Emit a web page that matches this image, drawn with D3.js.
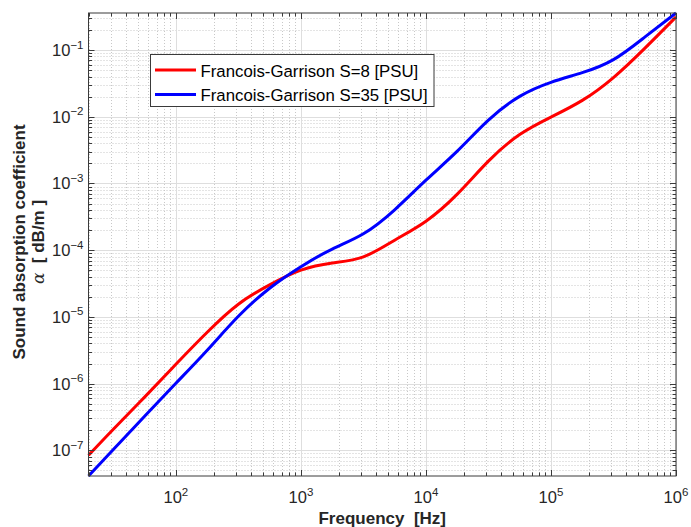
<!DOCTYPE html>
<html>
<head>
<meta charset="utf-8">
<script src="https://cdn.jsdelivr.net/npm/d3@7"></script>
<style>
  html, body { margin: 0; padding: 0; background: #fff; }
  svg { display: block; }
  text { font-family: "Liberation Sans", Arial, Helvetica, sans-serif; }
</style>
</head>
<body>
<svg id="chart" width="691" height="527"></svg>
<script>
// ---- data ----
const freqHz = [20, 31.6, 56.2, 100, 178, 316, 562, 1000, 1780, 3160, 5620,
                1e4, 1.78e4, 3.16e4, 5.62e4, 1e5, 1.78e5, 3.16e5, 5.62e5, 1e6];
const alphaS8 = [8.41e-8, 2.07e-7, 6.27e-7, 1.95e-6, 5.89e-6, 1.55e-5, 3.02e-5, 5.01e-5,
                 6.43e-5, 7.94e-5, 1.41e-4, 2.72e-4, 6.92e-4, 2.16e-3, 5.41e-3, 9.89e-3,
                 1.76e-2, 3.87e-2, 0.106, 0.313];
const alphaS35 = [4.12e-8, 1.03e-7, 3.24e-7, 1.01e-6, 3.16e-6, 1.02e-5, 2.69e-5, 5.66e-5,
                  1.04e-4, 1.76e-4, 4.03e-4, 1.12e-3, 3.05e-3, 8.91e-3, 2.02e-2, 3.28e-2,
                  4.58e-2, 7.18e-2, 0.156, 0.359];
const seriesNames = ["Francois-Garrison S=8 [PSU]", "Francois-Garrison S=35 [PSU]"];
const seriesColors = ["#ff0000", "#0000ff"];
const xTickExps = ["2", "3", "4", "5", "6"];
const yTickExps = ["−7", "−6", "−5", "−4", "−3", "−2", "−1"];

// ---- layout ----
const L = 88.5, R = 676, T = 13, B = 476;
const svg = d3.select("#chart");
const x = d3.scaleLog().domain([freqHz[0], freqHz[freqHz.length - 1]]).range([L, R]);
const yExt = d3.extent(alphaS8.concat(alphaS35));
const y = d3.scaleLog().domain(yExt).range([B, T]);

const axisCol = "#3a3a3a";
const txtCol = "#262626";

function minorVals(dom) {
  const out = [];
  const lo = Math.floor(Math.log10(dom[0])), hi = Math.ceil(Math.log10(dom[1]));
  for (let e = lo; e <= hi; e++) for (let k = 1; k <= 9; k++) {
    const v = k * Math.pow(10, e);
    if (v >= dom[0] * 0.999 && v <= dom[1] * 1.001) out.push({v, major: k === 1});
  }
  return out;
}
const xv = minorVals(x.domain()), yv = minorVals(y.domain());
const g = svg.append("g");
g.selectAll(".gx").data(xv.filter(d => !d.major)).enter().append("line")
  .attr("x1", d => Math.round(x(d.v)) + 0.5).attr("x2", d => Math.round(x(d.v)) + 0.5)
  .attr("y1", T).attr("y2", B)
  .attr("stroke", "#c8c8c8").attr("stroke-width", 1).attr("stroke-dasharray", "1,2");
g.selectAll(".gy").data(yv.filter(d => !d.major)).enter().append("line")
  .attr("y1", d => Math.round(y(d.v)) + 0.5).attr("y2", d => Math.round(y(d.v)) + 0.5)
  .attr("x1", L).attr("x2", R)
  .attr("stroke", "#c8c8c8").attr("stroke-width", 1).attr("stroke-dasharray", "1,2");
g.selectAll(".Gx").data(xv.filter(d => d.major)).enter().append("line")
  .attr("x1", d => Math.round(x(d.v)) + 0.5).attr("x2", d => Math.round(x(d.v)) + 0.5)
  .attr("y1", T).attr("y2", B).attr("stroke", "#dedede").attr("stroke-width", 1);
g.selectAll(".Gy").data(yv.filter(d => d.major)).enter().append("line")
  .attr("y1", d => Math.round(y(d.v)) + 0.5).attr("y2", d => Math.round(y(d.v)) + 0.5)
  .attr("x1", L).attr("x2", R).attr("stroke", "#dedede").attr("stroke-width", 1);

// curves
const line = d3.line().x((d, i) => x(freqHz[i])).y(d => y(d)).curve(d3.curveNatural);
svg.append("g").selectAll("path").data([alphaS8, alphaS35]).enter().append("path")
  .attr("d", d => line(d))
  .attr("fill", "none")
  .attr("stroke", (d, i) => seriesColors[i])
  .attr("stroke-width", 3)
  .attr("stroke-linejoin", "round");

// axes box
svg.append("rect").attr("x", L).attr("y", T).attr("width", R - L).attr("height", B - T)
  .attr("fill", "none").attr("stroke", axisCol).attr("stroke-width", 1);

// ticks (inside, all four sides)
const tk = svg.append("g").attr("stroke", axisCol).attr("stroke-width", 1);
xv.forEach(d => {
  const px = Math.round(x(d.v)) + 0.5, len = d.major ? 6 : 3.5;
  tk.append("line").attr("x1", px).attr("x2", px).attr("y1", B).attr("y2", B - len);
  tk.append("line").attr("x1", px).attr("x2", px).attr("y1", T).attr("y2", T + len);
});
yv.forEach(d => {
  const py = Math.round(y(d.v)) + 0.5, len = d.major ? 6 : 3.5;
  tk.append("line").attr("y1", py).attr("y2", py).attr("x1", L).attr("x2", L + len);
  tk.append("line").attr("y1", py).attr("y2", py).attr("x1", R).attr("x2", R - len);
});

// tick labels
xTickExps.forEach(e => {
  const t = svg.append("text").attr("x", x(Math.pow(10, +e))).attr("y", 503)
    .attr("text-anchor", "middle").attr("fill", txtCol).attr("font-size", 16.5);
  t.append("tspan").text("10");
  t.append("tspan").attr("dy", -7.5).attr("font-size", 11.5).text(e);
});
yTickExps.forEach(e => {
  const ev = +e.replace("−", "-");
  const t = svg.append("text").attr("x", 83.5).attr("y", y(Math.pow(10, ev)) + 6)
    .attr("text-anchor", "end").attr("fill", txtCol).attr("font-size", 16.5);
  t.append("tspan").text("10");
  t.append("tspan").attr("dy", -7.5).attr("font-size", 11.5).text(e);
});

// axis labels
svg.append("text").attr("x", (L + R) / 2).attr("y", 524).attr("text-anchor", "middle")
  .attr("font-weight", "bold").attr("font-size", 17).attr("fill", txtCol)
  .attr("xml:space", "preserve").text("Frequency  [Hz]");
const cy = 242;
svg.append("text").attr("transform", `translate(25,${cy}) rotate(-90)`)
  .attr("text-anchor", "middle").attr("font-weight", "bold").attr("font-size", 17)
  .attr("fill", txtCol).text("Sound absorption coefficient");
const yl2 = svg.append("text").attr("transform", `translate(44,${cy}) rotate(-90)`)
  .attr("text-anchor", "middle").attr("font-size", 17).attr("fill", txtCol)
  .attr("xml:space", "preserve");
yl2.append("tspan").attr("font-family", "'DejaVu Serif', 'Liberation Serif', serif")
  .attr("font-style", "italic").text("α");
yl2.append("tspan").attr("font-weight", "bold").text("  [ dB/m ]");

// legend
const lg = svg.append("g");
lg.append("rect").attr("x", 150.5).attr("y", 54.5).attr("width", 283.5).attr("height", 52)
  .attr("fill", "#fff").attr("stroke", axisCol).attr("stroke-width", 1);
seriesNames.forEach((n, i) => {
  const ly = 70 + i * 24.5;
  lg.append("line").attr("x1", 155).attr("x2", 196).attr("y1", ly).attr("y2", ly)
    .attr("stroke", seriesColors[i]).attr("stroke-width", 3);
  lg.append("text").attr("x", 200.5).attr("y", ly + 6.5).attr("font-size", 16.8)
    .attr("fill", "#000").text(n);
});
</script>
</body>
</html>
